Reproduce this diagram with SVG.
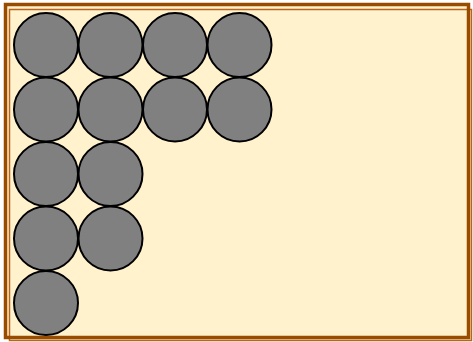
<svg xmlns="http://www.w3.org/2000/svg" width="473" height="342" viewBox="0 0 473 342">
<style>
.c{fill:#808080;stroke:#000;stroke-width:2}
</style>
<rect x="0" y="0" width="473" height="342" fill="#ffffff"/>
<rect x="5.5" y="4.5" width="463" height="333" fill="#fff2cc"/>
<rect id="bg" x="9.5" y="9.5" width="462" height="331" fill="#fff2cc" stroke="#b8641e" stroke-width="1.5"/>
<rect id="frame" x="5.5" y="4.5" width="463" height="333" fill="none" stroke="#994c00" stroke-width="3.5"/>
<g id="circles">
<circle class="c" cx="46" cy="45" r="32"/>
<circle class="c" cx="110.5" cy="45" r="32"/>
<circle class="c" cx="175" cy="45" r="32"/>
<circle class="c" cx="239.5" cy="45" r="32"/>
<circle class="c" cx="46" cy="109.5" r="32"/>
<circle class="c" cx="110.5" cy="109.5" r="32"/>
<circle class="c" cx="175" cy="109.5" r="32"/>
<circle class="c" cx="239.5" cy="109.5" r="32"/>
<circle class="c" cx="46" cy="174" r="32"/>
<circle class="c" cx="110.5" cy="174" r="32"/>
<circle class="c" cx="46" cy="238.5" r="32"/>
<circle class="c" cx="110.5" cy="238.5" r="32"/>
<circle class="c" cx="46" cy="303" r="32"/>
</g>
</svg>
